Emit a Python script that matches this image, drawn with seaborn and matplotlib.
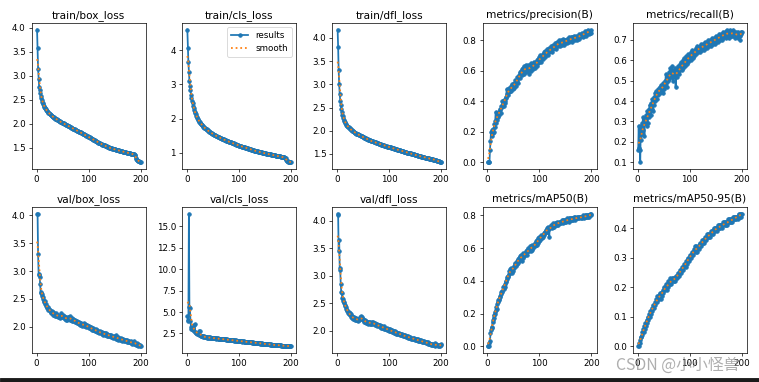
import numpy as np
import pandas as pd
import matplotlib
matplotlib.use("Agg")
import matplotlib.pyplot as plt
from matplotlib.patches import Rectangle
import seaborn as sns

# epochs
epochs = list(range(1, 201))

train_box_loss = [
    3.96, 3.57, 3.14, 2.94, 2.76, 2.71, 2.65, 2.58, 2.54, 2.49,
    2.46, 2.43, 2.41, 2.38, 2.36, 2.33, 2.32, 2.30, 2.28, 2.27,
    2.26, 2.24, 2.23, 2.22, 2.21, 2.20, 2.19, 2.18, 2.17, 2.16,
    2.15, 2.14, 2.14, 2.13, 2.12, 2.11, 2.10, 2.10, 2.09, 2.08,
    2.08, 2.07, 2.06, 2.06, 2.05, 2.04, 2.04, 2.03, 2.02, 2.02,
    2.01, 2.01, 2.00, 1.99, 1.99, 1.98, 1.98, 1.97, 1.97, 1.96,
    1.96, 1.95, 1.95, 1.94, 1.93, 1.93, 1.92, 1.92, 1.91, 1.90,
    1.90, 1.89, 1.89, 1.88, 1.88, 1.87, 1.86, 1.86, 1.85, 1.85,
    1.84, 1.84, 1.83, 1.82, 1.82, 1.81, 1.81, 1.80, 1.79, 1.79,
    1.78, 1.78, 1.77, 1.76, 1.76, 1.75, 1.75, 1.74, 1.73, 1.73,
    1.72, 1.72, 1.71, 1.70, 1.70, 1.69, 1.69, 1.68, 1.67, 1.67,
    1.66, 1.66, 1.65, 1.64, 1.64, 1.63, 1.63, 1.62, 1.61, 1.61,
    1.60, 1.60, 1.59, 1.58, 1.58, 1.57, 1.57, 1.56, 1.56, 1.55,
    1.55, 1.54, 1.54, 1.53, 1.53, 1.52, 1.52, 1.51, 1.51, 1.50,
    1.50, 1.50, 1.49, 1.49, 1.49, 1.48, 1.48, 1.48, 1.47, 1.47,
    1.47, 1.46, 1.46, 1.46, 1.45, 1.45, 1.45, 1.45, 1.44, 1.44,
    1.44, 1.43, 1.43, 1.43, 1.43, 1.42, 1.42, 1.42, 1.41, 1.41,
    1.41, 1.41, 1.40, 1.40, 1.40, 1.40, 1.39, 1.39, 1.39, 1.39,
    1.38, 1.38, 1.38, 1.38, 1.37, 1.37, 1.37, 1.37, 1.36, 1.36,
    1.28, 1.26, 1.25, 1.24, 1.23, 1.23, 1.22, 1.21, 1.21, 1.20,
]

train_cls_loss = [
    4.60, 4.07, 3.65, 3.35, 3.10, 2.95, 2.82, 2.70, 2.60, 2.52,
    2.44, 2.37, 2.31, 2.25, 2.20, 2.16, 2.12, 2.08, 2.05, 2.02,
    1.99, 1.96, 1.94, 1.91, 1.89, 1.87, 1.85, 1.83, 1.81, 1.80,
    1.78, 1.76, 1.75, 1.73, 1.72, 1.70, 1.69, 1.68, 1.66, 1.65,
    1.64, 1.63, 1.62, 1.61, 1.60, 1.59, 1.58, 1.57, 1.56, 1.55,
    1.54, 1.53, 1.52, 1.51, 1.51, 1.50, 1.49, 1.48, 1.47, 1.47,
    1.46, 1.45, 1.44, 1.44, 1.43, 1.42, 1.41, 1.41, 1.40, 1.39,
    1.39, 1.38, 1.37, 1.37, 1.36, 1.35, 1.35, 1.34, 1.33, 1.33,
    1.32, 1.32, 1.31, 1.30, 1.30, 1.29, 1.29, 1.28, 1.27, 1.27,
    1.26, 1.26, 1.25, 1.25, 1.24, 1.23, 1.23, 1.22, 1.22, 1.21,
    1.21, 1.20, 1.20, 1.19, 1.19, 1.18, 1.18, 1.17, 1.17, 1.16,
    1.16, 1.15, 1.15, 1.14, 1.14, 1.13, 1.13, 1.12, 1.12, 1.11,
    1.11, 1.10, 1.10, 1.09, 1.09, 1.08, 1.08, 1.07, 1.07, 1.06,
    1.06, 1.06, 1.05, 1.05, 1.04, 1.04, 1.03, 1.03, 1.03, 1.02,
    1.02, 1.01, 1.01, 1.01, 1.00, 1.00, 0.99, 0.99, 0.99, 0.98,
    0.98, 0.98, 0.97, 0.97, 0.97, 0.96, 0.96, 0.96, 0.95, 0.95,
    0.95, 0.94, 0.94, 0.94, 0.93, 0.93, 0.93, 0.92, 0.92, 0.92,
    0.91, 0.91, 0.91, 0.90, 0.90, 0.90, 0.90, 0.89, 0.89, 0.89,
    0.88, 0.88, 0.88, 0.88, 0.87, 0.87, 0.87, 0.86, 0.86, 0.86,
    0.78, 0.76, 0.75, 0.75, 0.74, 0.74, 0.73, 0.73, 0.72, 0.72,
]

train_dfl_loss = [
    4.18, 3.80, 3.30, 3.00, 2.79, 2.65, 2.55, 2.47, 2.40, 2.34,
    2.31, 2.27, 2.24, 2.21, 2.19, 2.17, 2.15, 2.13, 2.11, 2.10,
    2.08, 2.07, 2.06, 2.05, 2.04, 2.03, 2.02, 2.01, 2.00, 2.00,
    1.99, 1.98, 1.97, 1.96, 1.96, 1.95, 1.94, 1.94, 1.93, 1.92,
    1.92, 1.91, 1.91, 1.90, 1.89, 1.89, 1.88, 1.88, 1.87, 1.86,
    1.86, 1.85, 1.85, 1.84, 1.84, 1.83, 1.83, 1.82, 1.82, 1.81,
    1.80, 1.79, 1.79, 1.79, 1.78, 1.78, 1.77, 1.77, 1.77, 1.76,
    1.76, 1.75, 1.75, 1.75, 1.74, 1.74, 1.73, 1.73, 1.73, 1.72,
    1.72, 1.72, 1.71, 1.71, 1.70, 1.70, 1.70, 1.69, 1.69, 1.69,
    1.68, 1.68, 1.67, 1.67, 1.67, 1.66, 1.66, 1.66, 1.65, 1.65,
    1.65, 1.64, 1.64, 1.63, 1.63, 1.63, 1.62, 1.62, 1.62, 1.61,
    1.61, 1.61, 1.60, 1.60, 1.60, 1.59, 1.59, 1.59, 1.58, 1.58,
    1.58, 1.57, 1.57, 1.57, 1.56, 1.56, 1.56, 1.55, 1.55, 1.55,
    1.54, 1.54, 1.54, 1.53, 1.53, 1.53, 1.52, 1.52, 1.52, 1.51,
    1.51, 1.51, 1.50, 1.50, 1.50, 1.49, 1.49, 1.49, 1.48, 1.48,
    1.48, 1.47, 1.47, 1.47, 1.46, 1.46, 1.46, 1.46, 1.45, 1.45,
    1.45, 1.44, 1.44, 1.44, 1.43, 1.43, 1.43, 1.43, 1.42, 1.42,
    1.42, 1.42, 1.41, 1.41, 1.41, 1.41, 1.40, 1.40, 1.40, 1.40,
    1.39, 1.39, 1.39, 1.39, 1.38, 1.38, 1.38, 1.38, 1.37, 1.37,
    1.36, 1.35, 1.35, 1.34, 1.34, 1.34, 1.33, 1.33, 1.33, 1.32,
]

precision = [
    0.00, 0.00, 0.00, 0.00, 0.08, 0.14, 0.20, 0.17, 0.21, 0.19,
    0.22, 0.20, 0.25, 0.23, 0.27, 0.33, 0.26, 0.30, 0.28, 0.32,
    0.30, 0.33, 0.31, 0.35, 0.34, 0.32, 0.37, 0.36, 0.40, 0.38,
    0.41, 0.37, 0.40, 0.39, 0.43, 0.42, 0.48, 0.45, 0.44, 0.47,
    0.46, 0.49, 0.47, 0.48, 0.50, 0.47, 0.49, 0.51, 0.48, 0.50,
    0.52, 0.49, 0.51, 0.54, 0.50, 0.53, 0.56, 0.55, 0.52, 0.57,
    0.56, 0.59, 0.55, 0.58, 0.60, 0.57, 0.61, 0.59, 0.62, 0.58,
    0.63, 0.60, 0.61, 0.64, 0.59, 0.62, 0.63, 0.60, 0.64, 0.58,
    0.62, 0.61, 0.65, 0.60, 0.63, 0.62, 0.64, 0.61, 0.66, 0.63,
    0.64, 0.62, 0.66, 0.65, 0.63, 0.67, 0.65, 0.68, 0.66, 0.69,
    0.67, 0.70, 0.68, 0.66, 0.69, 0.71, 0.68, 0.70, 0.72, 0.69,
    0.73, 0.71, 0.70, 0.74, 0.72, 0.70, 0.73, 0.75, 0.72, 0.74,
    0.73, 0.76, 0.74, 0.72, 0.75, 0.77, 0.74, 0.76, 0.75, 0.78,
    0.76, 0.74, 0.77, 0.79, 0.76, 0.78, 0.80, 0.77, 0.79, 0.76,
    0.78, 0.80, 0.77, 0.79, 0.78, 0.81, 0.77, 0.79, 0.80, 0.78,
    0.80, 0.79, 0.81, 0.78, 0.80, 0.82, 0.79, 0.81, 0.80, 0.82,
    0.81, 0.79, 0.82, 0.80, 0.82, 0.81, 0.83, 0.80, 0.82, 0.81,
    0.83, 0.82, 0.80, 0.83, 0.82, 0.84, 0.81, 0.83, 0.82, 0.84,
    0.83, 0.85, 0.82, 0.84, 0.83, 0.85, 0.84, 0.86, 0.83, 0.85,
    0.86, 0.84, 0.87, 0.85, 0.86, 0.84, 0.86, 0.85, 0.87, 0.85,
]

recall = [
    0.16, 0.28, 0.17, 0.16, 0.10, 0.28, 0.21, 0.29, 0.24, 0.32,
    0.26, 0.30, 0.23, 0.31, 0.29, 0.33, 0.28, 0.35, 0.29, 0.34,
    0.36, 0.32, 0.38, 0.35, 0.33, 0.39, 0.36, 0.41, 0.35, 0.40,
    0.42, 0.38, 0.44, 0.40, 0.43, 0.45, 0.41, 0.44, 0.46, 0.43,
    0.45, 0.47, 0.44, 0.46, 0.48, 0.45, 0.47, 0.44, 0.49, 0.47,
    0.46, 0.50, 0.48, 0.53, 0.49, 0.51, 0.47, 0.52, 0.50, 0.54,
    0.51, 0.53, 0.56, 0.52, 0.55, 0.57, 0.53, 0.50, 0.55, 0.52,
    0.54, 0.56, 0.47, 0.53, 0.55, 0.52, 0.57, 0.54, 0.56, 0.53,
    0.55, 0.58, 0.56, 0.59, 0.55, 0.57, 0.60, 0.56, 0.58, 0.61,
    0.57, 0.60, 0.62, 0.58, 0.61, 0.59, 0.63, 0.60, 0.62, 0.61,
    0.63, 0.60, 0.64, 0.62, 0.65, 0.61, 0.63, 0.64, 0.62, 0.65,
    0.64, 0.66, 0.63, 0.65, 0.67, 0.64, 0.66, 0.65, 0.67, 0.64,
    0.66, 0.68, 0.65, 0.67, 0.66, 0.68, 0.65, 0.67, 0.69, 0.66,
    0.68, 0.67, 0.69, 0.66, 0.68, 0.70, 0.67, 0.69, 0.68, 0.70,
    0.67, 0.69, 0.71, 0.68, 0.70, 0.69, 0.71, 0.68, 0.70, 0.72,
    0.69, 0.71, 0.70, 0.72, 0.69, 0.71, 0.73, 0.70, 0.72, 0.71,
    0.73, 0.70, 0.72, 0.74, 0.71, 0.73, 0.72, 0.74, 0.71, 0.73,
    0.75, 0.72, 0.74, 0.73, 0.71, 0.74, 0.72, 0.75, 0.73, 0.72,
    0.74, 0.72, 0.73, 0.75, 0.72, 0.74, 0.73, 0.71, 0.74, 0.72,
    0.73, 0.71, 0.74, 0.72, 0.73, 0.70, 0.72, 0.74, 0.73, 0.74,
]

val_box_loss = [
    4.03, 4.02, 3.30, 2.95, 2.93, 2.90, 2.76, 2.60, 2.62, 2.55,
    2.58, 2.50, 2.53, 2.46, 2.44, 2.47, 2.40, 2.38, 2.41, 2.35,
    2.33, 2.36, 2.30, 2.32, 2.28, 2.31, 2.27, 2.25, 2.29, 2.24,
    2.26, 2.22, 2.25, 2.21, 2.23, 2.20, 2.24, 2.19, 2.22, 2.20,
    2.18, 2.21, 2.17, 2.20, 2.16, 2.19, 2.24, 2.21, 2.18, 2.22,
    2.17, 2.20, 2.15, 2.18, 2.14, 2.17, 2.13, 2.16, 2.12, 2.15,
    2.18, 2.14, 2.17, 2.13, 2.19, 2.15, 2.12, 2.16, 2.11, 2.14,
    2.10, 2.13, 2.09, 2.12, 2.08, 2.11, 2.07, 2.10, 2.06, 2.09,
    2.05, 2.08, 2.04, 2.07, 2.03, 2.06, 2.02, 2.05, 2.03, 2.04,
    2.07, 2.02, 2.05, 2.01, 2.04, 2.00, 2.03, 1.99, 2.02, 1.98,
    2.01, 1.97, 2.00, 1.96, 1.99, 1.95, 1.98, 1.95, 1.97, 1.94,
    1.96, 1.93, 1.95, 1.92, 1.96, 1.91, 1.94, 1.90, 1.93, 1.91,
    1.89, 1.92, 1.88, 1.91, 1.87, 1.90, 1.86, 1.89, 1.87, 1.88,
    1.86, 1.89, 1.85, 1.88, 1.84, 1.87, 1.83, 1.86, 1.84, 1.85,
    1.83, 1.86, 1.82, 1.85, 1.81, 1.84, 1.80, 1.83, 1.81, 1.82,
    1.80, 1.85, 1.79, 1.82, 1.78, 1.81, 1.77, 1.80, 1.78, 1.79,
    1.77, 1.80, 1.76, 1.79, 1.75, 1.78, 1.76, 1.77, 1.75, 1.76,
    1.74, 1.77, 1.73, 1.76, 1.72, 1.75, 1.73, 1.74, 1.72, 1.73,
    1.71, 1.74, 1.70, 1.73, 1.71, 1.72, 1.70, 1.75, 1.69, 1.71,
    1.70, 1.68, 1.71, 1.67, 1.69, 1.66, 1.68, 1.66, 1.67, 1.65,
]

val_cls_loss = [
    4.50, 4.10, 3.90, 16.50, 5.60, 5.50, 4.00, 3.20, 3.05, 3.00,
    2.90, 3.10, 2.80, 3.50, 3.55, 2.70, 2.60, 2.55, 2.50, 2.45,
    2.40, 2.60, 2.35, 2.75, 2.80, 2.30, 2.25, 2.20, 2.25, 2.15,
    2.18, 2.12, 2.15, 2.10, 2.08, 2.12, 2.05, 2.10, 2.03, 2.07,
    2.02, 2.05, 2.00, 2.04, 1.98, 2.02, 1.97, 2.00, 1.95, 1.99,
    1.94, 1.97, 1.93, 1.96, 1.92, 1.95, 1.90, 1.94, 1.89, 1.92,
    1.88, 1.91, 1.87, 1.90, 1.86, 1.88, 1.84, 1.87, 1.83, 1.85,
    1.82, 1.84, 1.80, 1.83, 1.79, 1.81, 1.77, 1.80, 1.76, 1.78,
    1.75, 1.77, 1.73, 1.76, 1.72, 1.74, 1.70, 1.73, 1.69, 1.71,
    1.68, 1.70, 1.66, 1.69, 1.65, 1.67, 1.63, 1.66, 1.62, 1.64,
    1.61, 1.63, 1.59, 1.62, 1.58, 1.60, 1.56, 1.59, 1.55, 1.57,
    1.54, 1.56, 1.52, 1.55, 1.51, 1.53, 1.50, 1.52, 1.48, 1.50,
    1.47, 1.49, 1.45, 1.48, 1.44, 1.46, 1.43, 1.45, 1.41, 1.43,
    1.40, 1.42, 1.38, 1.41, 1.37, 1.39, 1.36, 1.38, 1.34, 1.36,
    1.33, 1.35, 1.31, 1.34, 1.30, 1.32, 1.29, 1.31, 1.27, 1.29,
    1.26, 1.28, 1.25, 1.27, 1.24, 1.25, 1.22, 1.24, 1.21, 1.23,
    1.20, 1.22, 1.19, 1.21, 1.18, 1.19, 1.16, 1.18, 1.15, 1.17,
    1.14, 1.16, 1.13, 1.15, 1.12, 1.13, 1.11, 1.12, 1.10, 1.11,
    1.09, 1.10, 1.08, 1.09, 1.07, 1.08, 1.06, 1.07, 1.05, 1.06,
    1.04, 1.05, 1.03, 1.04, 1.02, 1.03, 1.01, 1.02, 1.00, 1.01,
]

val_dfl_loss = [
    4.13, 4.10, 3.45, 3.65, 3.15, 3.10, 2.85, 2.70, 2.68, 2.60,
    2.58, 2.55, 2.52, 2.50, 2.45, 2.47, 2.40, 2.43, 2.36, 2.38,
    2.33, 2.35, 2.30, 2.32, 2.28, 2.30, 2.25, 2.27, 2.23, 2.26,
    2.22, 2.25, 2.21, 2.24, 2.20, 2.23, 2.19, 2.22, 2.20, 2.21,
    2.18, 2.22, 2.19, 2.25, 2.21, 2.27, 2.23, 2.26, 2.20, 2.22,
    2.17, 2.20, 2.16, 2.19, 2.15, 2.18, 2.14, 2.17, 2.13, 2.16,
    2.14, 2.17, 2.13, 2.16, 2.12, 2.15, 2.17, 2.13, 2.16, 2.12,
    2.15, 2.11, 2.14, 2.10, 2.13, 2.09, 2.12, 2.10, 2.11, 2.08,
    2.11, 2.07, 2.10, 2.06, 2.09, 2.05, 2.08, 2.06, 2.07, 2.04,
    2.08, 2.04, 2.06, 2.03, 2.05, 2.02, 2.04, 2.01, 2.03, 2.00,
    2.03, 2.00, 2.02, 1.99, 2.01, 1.98, 2.00, 1.98, 1.99, 1.97,
    1.99, 1.96, 1.98, 1.95, 1.97, 1.95, 1.96, 1.94, 1.96, 1.93,
    1.95, 1.93, 1.94, 1.92, 1.94, 1.91, 1.93, 1.91, 1.92, 1.90,
    1.92, 1.89, 1.91, 1.89, 1.90, 1.88, 1.90, 1.87, 1.89, 1.87,
    1.89, 1.86, 1.88, 1.86, 1.87, 1.85, 1.87, 1.85, 1.86, 1.84,
    1.86, 1.84, 1.85, 1.83, 1.85, 1.82, 1.84, 1.82, 1.83, 1.81,
    1.83, 1.81, 1.82, 1.80, 1.82, 1.79, 1.81, 1.79, 1.80, 1.78,
    1.80, 1.78, 1.79, 1.77, 1.79, 1.76, 1.78, 1.76, 1.77, 1.75,
    1.77, 1.75, 1.76, 1.74, 1.76, 1.74, 1.75, 1.73, 1.78, 1.74,
    1.76, 1.74, 1.75, 1.73, 1.75, 1.73, 1.74, 1.72, 1.76, 1.74,
]

map50 = [
    0.00, 0.00, 0.00, 0.02, 0.03, 0.08, 0.10, 0.12, 0.11, 0.15,
    0.16, 0.19, 0.17, 0.21, 0.20, 0.22, 0.24, 0.23, 0.26, 0.28,
    0.27, 0.29, 0.28, 0.31, 0.30, 0.33, 0.32, 0.34, 0.33, 0.36,
    0.35, 0.37, 0.36, 0.38, 0.40, 0.39, 0.42, 0.41, 0.43, 0.42,
    0.44, 0.46, 0.45, 0.47, 0.46, 0.48, 0.45, 0.47, 0.48, 0.46,
    0.49, 0.48, 0.50, 0.51, 0.49, 0.52, 0.50, 0.53, 0.51, 0.54,
    0.52, 0.55, 0.53, 0.56, 0.54, 0.52, 0.55, 0.57, 0.54, 0.56,
    0.55, 0.57, 0.56, 0.58, 0.57, 0.59, 0.56, 0.58, 0.60, 0.58,
    0.59, 0.61, 0.58, 0.60, 0.62, 0.59, 0.61, 0.60, 0.62, 0.61,
    0.63, 0.61, 0.62, 0.64, 0.62, 0.65, 0.63, 0.66, 0.64, 0.67,
    0.65, 0.67, 0.66, 0.68, 0.66, 0.68, 0.67, 0.69, 0.68, 0.70,
    0.69, 0.71, 0.70, 0.72, 0.70, 0.73, 0.71, 0.72, 0.67, 0.73,
    0.72, 0.74, 0.73, 0.72, 0.74, 0.73, 0.75, 0.74, 0.73, 0.75,
    0.74, 0.75, 0.74, 0.76, 0.75, 0.74, 0.76, 0.75, 0.76, 0.75,
    0.76, 0.75, 0.77, 0.76, 0.75, 0.77, 0.76, 0.77, 0.76, 0.77,
    0.77, 0.76, 0.77, 0.78, 0.77, 0.76, 0.78, 0.77, 0.78, 0.77,
    0.78, 0.77, 0.78, 0.77, 0.78, 0.79, 0.78, 0.77, 0.79, 0.78,
    0.78, 0.79, 0.78, 0.79, 0.78, 0.79, 0.78, 0.79, 0.79, 0.78,
    0.79, 0.78, 0.79, 0.80, 0.79, 0.78, 0.79, 0.80, 0.79, 0.80,
    0.79, 0.80, 0.79, 0.80, 0.80, 0.79, 0.80, 0.81, 0.80, 0.81,
]

map50_95 = [
    0.00, 0.00, 0.01, 0.01, 0.02, 0.03, 0.03, 0.04, 0.05, 0.05,
    0.06, 0.05, 0.07, 0.06, 0.08, 0.07, 0.09, 0.08, 0.10, 0.09,
    0.10, 0.11, 0.10, 0.12, 0.11, 0.12, 0.13, 0.12, 0.14, 0.13,
    0.14, 0.13, 0.15, 0.14, 0.15, 0.16, 0.15, 0.17, 0.16, 0.17,
    0.16, 0.18, 0.17, 0.16, 0.18, 0.17, 0.18, 0.19, 0.18, 0.20,
    0.19, 0.20, 0.19, 0.21, 0.20, 0.19, 0.21, 0.20, 0.22, 0.21,
    0.22, 0.21, 0.23, 0.22, 0.21, 0.23, 0.22, 0.23, 0.22, 0.23,
    0.23, 0.22, 0.24, 0.23, 0.24, 0.23, 0.25, 0.24, 0.25, 0.24,
    0.26, 0.25, 0.26, 0.25, 0.27, 0.26, 0.27, 0.26, 0.28, 0.27,
    0.28, 0.27, 0.29, 0.28, 0.29, 0.30, 0.29, 0.30, 0.29, 0.31,
    0.30, 0.31, 0.30, 0.32, 0.31, 0.32, 0.31, 0.33, 0.32, 0.34,
    0.33, 0.32, 0.34, 0.33, 0.32, 0.34, 0.33, 0.34, 0.35, 0.34,
    0.35, 0.34, 0.35, 0.36, 0.35, 0.36, 0.35, 0.36, 0.37, 0.36,
    0.37, 0.36, 0.37, 0.38, 0.37, 0.38, 0.37, 0.38, 0.37, 0.38,
    0.39, 0.38, 0.39, 0.38, 0.39, 0.40, 0.39, 0.40, 0.39, 0.40,
    0.40, 0.39, 0.40, 0.41, 0.40, 0.41, 0.40, 0.41, 0.40, 0.41,
    0.41, 0.40, 0.41, 0.42, 0.41, 0.42, 0.41, 0.42, 0.41, 0.42,
    0.42, 0.41, 0.42, 0.43, 0.42, 0.43, 0.42, 0.43, 0.42, 0.43,
    0.43, 0.42, 0.43, 0.44, 0.43, 0.44, 0.43, 0.44, 0.43, 0.44,
    0.44, 0.43, 0.44, 0.45, 0.44, 0.45, 0.44, 0.45, 0.44, 0.45,
]

titles = ["train/box_loss", "train/cls_loss", "train/dfl_loss", "metrics/precision(B)", "metrics/recall(B)",
          "val/box_loss", "val/cls_loss", "val/dfl_loss", "metrics/mAP50(B)", "metrics/mAP50-95(B)"]
series = [train_box_loss, train_cls_loss, train_dfl_loss, precision, recall,
          val_box_loss, val_cls_loss, val_dfl_loss, map50, map50_95]


def gauss_smooth(y, sigma=3):
    # same as scipy gaussian_filter1d (mode reflect, truncate 4)
    r = int(4 * sigma + 0.5)
    k = np.exp(-0.5 * (np.arange(-r, r + 1) / sigma) ** 2)
    k = k / k.sum()
    yp = np.pad(np.asarray(y, dtype=float), r, mode="symmetric")
    return np.convolve(yp, k, mode="valid")


fig, ax = plt.subplots(2, 5, figsize=(12, 6.04))
fig.subplots_adjust(left=0.042, right=0.984, bottom=0.076, top=0.94, wspace=0.32, hspace=0.26)
ax = ax.ravel()
for i, (t, y) in enumerate(zip(titles, series)):
    df = pd.DataFrame({"epoch": epochs, "value": y})
    df["smooth"] = gauss_smooth(df["value"])
    sns.lineplot(data=df, x="epoch", y="value", ax=ax[i], marker=".", markersize=8, linewidth=2,
                 color="C0", markeredgecolor="C0", markeredgewidth=1, label="results")
    sns.lineplot(data=df, x="epoch", y="smooth", ax=ax[i], linestyle=":", linewidth=2,
                 color="C1", label="smooth")
    ax[i].set_title(t, fontsize=12)
    ax[i].set_xlabel("")
    ax[i].set_ylabel("")
    if i != 1:
        ax[i].get_legend().remove()
ax[1].legend()

# watermark of the screenshot (overlaps the last x tick labels, as in the source)
fig.text(0.975, 0.045, "CSDN @小小怪兽", ha="right", va="center", fontsize=18, color="#8c8c8c", alpha=0.7,
         family=["Noto Sans CJK SC", "DejaVu Sans"])
# dark strip at the bottom edge of the screenshot
fig.patches.append(Rectangle((0, 0), 1, 4 / 382, transform=fig.transFigure, color="#1a1a1a", zorder=10))

fig.savefig("out.png", dpi=63.25)
